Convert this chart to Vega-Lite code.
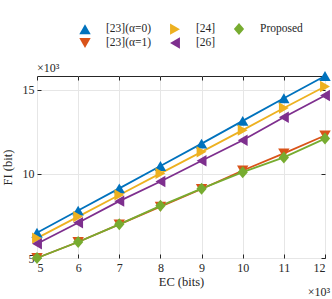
{
  "$schema": "https://vega.github.io/schema/vega-lite/v6.json",
  "autosize": "none",
  "width": 288,
  "height": 182,
  "padding": {"left": 37, "top": 76, "right": 7, "bottom": 41},
  "config": {
    "font": "Liberation Serif",
    "view": {"stroke": "#262626", "strokeWidth": 1},
    "axis": {
      "labelFont": "Liberation Serif", "labelFontSize": 12, "labelColor": "#262626",
      "titleFont": "Liberation Serif", "titleFontSize": 12.5, "titleFontWeight": "normal", "titleColor": "#262626",
      "domainColor": "#262626", "tickColor": "#262626", "gridColor": "#e6e6e6", "gridWidth": 1
    }
  },
  "datasets": {
    "fi": [
      {"ec": 5, "fi": 6.5, "method": "[23](α=0)"},
      {"ec": 6, "fi": 7.82, "method": "[23](α=0)"},
      {"ec": 7, "fi": 9.14, "method": "[23](α=0)"},
      {"ec": 8, "fi": 10.47, "method": "[23](α=0)"},
      {"ec": 9, "fi": 11.8, "method": "[23](α=0)"},
      {"ec": 10, "fi": 13.15, "method": "[23](α=0)"},
      {"ec": 11, "fi": 14.5, "method": "[23](α=0)"},
      {"ec": 12, "fi": 15.82, "method": "[23](α=0)"},
      {"ec": 5, "fi": 5.0, "method": "[23](α=1)"},
      {"ec": 6, "fi": 5.95, "method": "[23](α=1)"},
      {"ec": 7, "fi": 7.0, "method": "[23](α=1)"},
      {"ec": 8, "fi": 8.05, "method": "[23](α=1)"},
      {"ec": 9, "fi": 9.1, "method": "[23](α=1)"},
      {"ec": 10, "fi": 10.2, "method": "[23](α=1)"},
      {"ec": 11, "fi": 11.22, "method": "[23](α=1)"},
      {"ec": 12, "fi": 12.28, "method": "[23](α=1)"},
      {"ec": 5, "fi": 6.18, "method": "[24]"},
      {"ec": 6, "fi": 7.46, "method": "[24]"},
      {"ec": 7, "fi": 8.75, "method": "[24]"},
      {"ec": 8, "fi": 10.03, "method": "[24]"},
      {"ec": 9, "fi": 11.31, "method": "[24]"},
      {"ec": 10, "fi": 12.6, "method": "[24]"},
      {"ec": 11, "fi": 13.92, "method": "[24]"},
      {"ec": 12, "fi": 15.2, "method": "[24]"},
      {"ec": 5, "fi": 5.85, "method": "[26]"},
      {"ec": 6, "fi": 7.1, "method": "[26]"},
      {"ec": 7, "fi": 8.38, "method": "[26]"},
      {"ec": 8, "fi": 9.55, "method": "[26]"},
      {"ec": 9, "fi": 10.78, "method": "[26]"},
      {"ec": 10, "fi": 12.0, "method": "[26]"},
      {"ec": 11, "fi": 13.37, "method": "[26]"},
      {"ec": 12, "fi": 14.66, "method": "[26]"},
      {"ec": 5, "fi": 5.0, "method": "Proposed"},
      {"ec": 6, "fi": 5.95, "method": "Proposed"},
      {"ec": 7, "fi": 7.0, "method": "Proposed"},
      {"ec": 8, "fi": 8.1, "method": "Proposed"},
      {"ec": 9, "fi": 9.12, "method": "Proposed"},
      {"ec": 10, "fi": 10.1, "method": "Proposed"},
      {"ec": 11, "fi": 10.98, "method": "Proposed"},
      {"ec": 12, "fi": 12.1, "method": "Proposed"}
    ]
  },
  "data": {"name": "fi"},
  "resolve": {"axis": {"x": "independent", "y": "independent"}},
  "layer": [
    {
      "mark": {"type": "line", "strokeWidth": 1.8},
      "encoding": {
        "x": {"field": "ec", "type": "quantitative", "scale": {"domain": [5, 12], "nice": false},
              "axis": {"title": "EC (bits)", "values": [5,6,7,8,9,10,11,12], "grid": true, "tickSize": -4, "labelPadding": 8, "titlePadding": 2, "domain": false}},
        "y": {"field": "fi", "type": "quantitative", "scale": {"domain": [5, 15.82], "nice": false, "zero": false},
              "axis": {"title": "FI (bit)", "values": [5, 10, 15], "grid": true, "tickSize": -4, "labelPadding": 7, "titlePadding": 8, "domain": false}},
        "color": {"field": "method", "type": "nominal",
          "scale": {"domain": ["[23](α=0)", "[24]", "Proposed", "[23](α=1)", "[26]"],
                    "range": ["#0072BD", "#EDB120", "#77AC30", "#D95319", "#7E2F8E"]},
          "legend": {
            "title": null, "orient": "none", "legendX": 42, "legendY": -53, "columns": 3,
            "direction": "horizontal",
            "symbolSize": 130, "symbolStrokeWidth": 0, "labelFontSize": 11.5, "labelFont": "Liberation Serif",
            "labelColor": "#262626", "labelOffset": 15, "columnPadding": 17, "rowPadding": 2
          }
        }
      }
    },
    {
      "mark": {"type": "point", "filled": true, "size": 130, "opacity": 1},
      "encoding": {
        "x": {"field": "ec", "type": "quantitative", "axis": {"orient": "top", "labels": false, "title": null, "grid": false, "tickSize": -4, "domain": false, "values": [5,6,7,8,9,10,11,12]}},
        "y": {"field": "fi", "type": "quantitative", "axis": {"orient": "right", "labels": false, "title": null, "grid": false, "tickSize": -4, "domain": false, "values": [5, 10, 15]}},
        "color": {"field": "method", "type": "nominal"},
        "shape": {"field": "method", "type": "nominal",
          "scale": {"domain": ["[23](α=0)", "[24]", "Proposed", "[23](α=1)", "[26]"],
                    "range": ["triangle-up", "triangle-right", "M0,-1.05L0.9,0L0,1.05L-0.9,0Z", "triangle-down", "triangle-left"]}}
      }
    },
    {
      "data": {"values": [{"label": "×10³", "ex": 5, "ey": 15.82, "pos": "top"}]},
      "mark": {"type": "text", "align": "left", "baseline": "bottom", "fontSize": 12, "dy": -1, "color": "#262626", "font": "Liberation Serif"},
      "encoding": {
        "x": {"field": "ex", "type": "quantitative", "axis": null},
        "y": {"field": "ey", "type": "quantitative", "axis": null},
        "text": {"field": "label"}
      }
    },
    {
      "data": {"values": [{"label": "×10³", "ex": 12, "ey": 5, "pos": "bottom"}]},
      "mark": {"type": "text", "align": "right", "baseline": "middle", "fontSize": 12, "dx": 5, "dy": 34, "color": "#262626", "font": "Liberation Serif"},
      "encoding": {
        "x": {"field": "ex", "type": "quantitative", "axis": null},
        "y": {"field": "ey", "type": "quantitative", "axis": null},
        "text": {"field": "label"}
      }
    }
  ]
}
